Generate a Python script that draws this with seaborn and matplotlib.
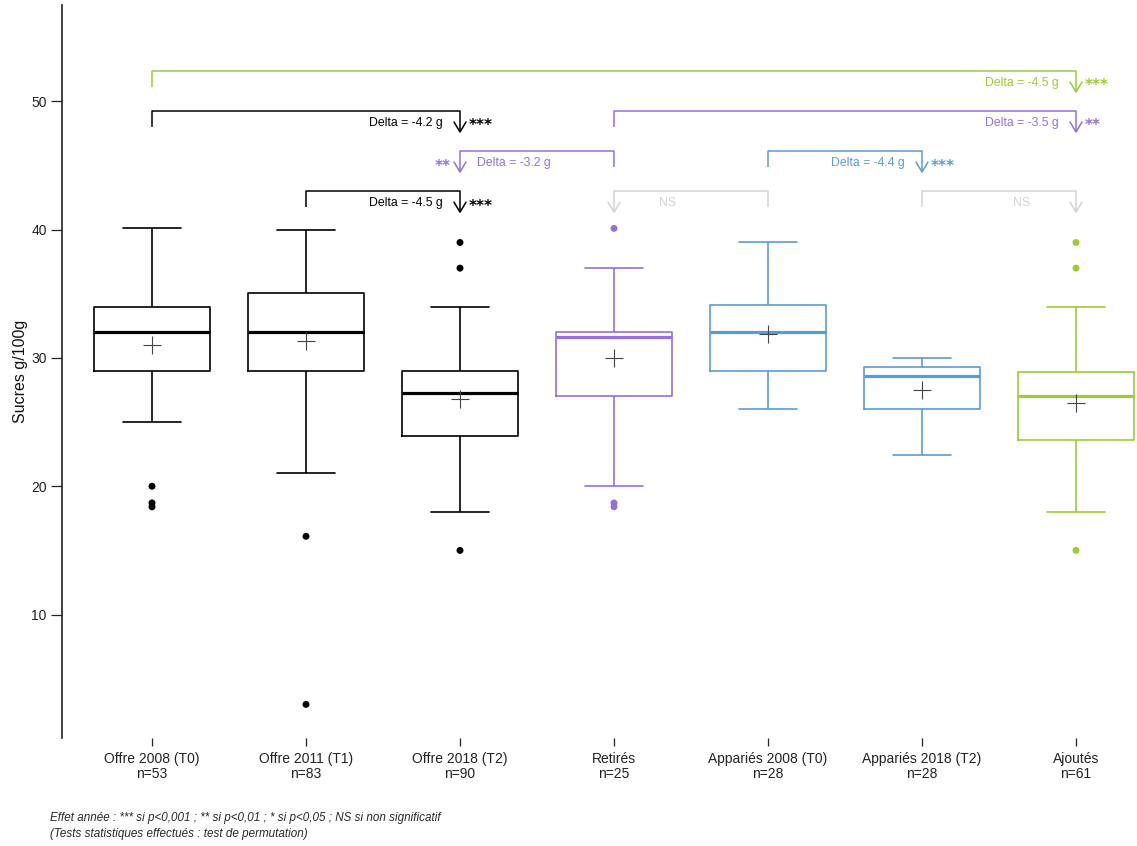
import numpy as np
import pandas as pd
import matplotlib
matplotlib.use("Agg")
import matplotlib.pyplot as plt
import seaborn as sns

# ---------------- data ----------------
categories = ["Offre 2008 (T0)", "Offre 2011 (T1)", "Offre 2018 (T2)", "Retirés",
              "Appariés 2008 (T0)", "Appariés 2018 (T2)", "Ajoutés"]
counts = [53, 83, 90, 25, 28, 28, 61]
whisker_low = [25.0, 21.0, 18.0, 20.0, 26.0, 22.4, 18.0]
q1 = [29.0, 29.0, 23.9, 27.0, 29.0, 26.0, 23.6]
median = [32.0, 32.0, 27.3, 31.6, 32.0, 28.6, 27.0]
q3 = [34.0, 35.1, 29.0, 32.0, 34.1, 29.3, 28.9]
whisker_high = [40.1, 40.0, 34.0, 37.0, 39.0, 30.0, 34.0]
means = [31.0, 31.3, 26.8, 30.0, 31.9, 27.5, 26.5]
outlier_groups = ["Offre 2008 (T0)"] * 3 + ["Offre 2011 (T1)"] * 2 + ["Offre 2018 (T2)"] * 3 \
    + ["Retirés"] * 3 + ["Ajoutés"] * 3
outlier_values = [20.0, 18.7, 18.4, 16.1, 3.0, 39.0, 37.0, 15.0, 40.1, 18.7, 18.4, 39.0, 37.0, 15.0]

# comparisons (from group index -> to group index, delta, significance)
comp_from = [0, 1, 3, 4, 4, 5, 3, 0]
comp_to = [2, 2, 2, 5, 3, 6, 6, 6]
comp_delta = [-4.2, -4.5, -3.2, -4.4, None, None, -3.5, -4.5]
comp_sig = ["***", "***", "**", "***", "NS", "NS", "**", "***"]

footnote_1 = "Effet année : *** si p<0,001 ; ** si p<0,01 ; * si p<0,05 ; NS si non significatif"
footnote_2 = "(Tests statistiques effectués : test de permutation)"

# ---------------- styles ----------------
BLACK = "#000000"
PURPLE = "#9370DB"
BLUE = "#5B9BD5"
GREEN = "#9ACD32"
GRAY = "#D3D3D3"
box_colors = dict(zip(categories, [BLACK, BLACK, BLACK, PURPLE, BLUE, BLUE, GREEN]))
comp_levels = [49.25, 43.0, 46.13, 46.13, 43.0, 43.0, 49.25, 52.37]
comp_colors = [BLACK, BLACK, PURPLE, BLUE, GRAY, GRAY, PURPLE, GREEN]

sns.set_theme(style="white")
plt.rcParams["font.family"] = ["Liberation Sans", "DejaVu Sans"]

fig = plt.figure(figsize=(11.37, 8.46), dpi=100)
ax = fig.add_axes([62 / 1137, (846 - 738) / 846, (1137 - 62) / 1137, (738 - 5) / 846])

summary = pd.DataFrame({
    "Groupe": np.repeat(categories, 5),
    "Sucres": np.column_stack([whisker_low, q1, median, q3, whisker_high]).ravel(),
})
sns.boxplot(data=summary, x="Groupe", y="Sucres", hue="Groupe", order=categories,
            hue_order=categories, palette=box_colors, fill=False, whis=(0, 100),
            showfliers=False, width=0.75, linewidth=1.2, dodge=False,
            medianprops=dict(linewidth=2.3), legend=False, ax=ax)

out_df = pd.DataFrame({"Groupe": outlier_groups, "Sucres": outlier_values})
sns.stripplot(data=out_df, x="Groupe", y="Sucres", hue="Groupe", order=categories,
              palette=box_colors, jitter=False, size=5, linewidth=0, legend=False, ax=ax)

sns.scatterplot(x=np.arange(len(categories)), y=means, marker="+", s=150,
                color="#444444", linewidth=0.8, legend=False, ax=ax, zorder=5)

# ---------------- brackets ----------------
px_x = 1 / 154.0     # data units per pixel along x
px_y = 1 / 12.83     # data units per pixel along y
for i0, i1, lev, col, d, sig in zip(comp_from, comp_to, comp_levels, comp_colors,
                                     comp_delta, comp_sig):
    tick = 16 * px_y
    drop = 21 * px_y
    tip = lev - drop
    ax.plot([i0, i0, i1, i1], [lev - tick, lev, lev, tip], color=col, lw=1.1,
            solid_capstyle="butt", clip_on=False)
    hw, hh = 6 * px_x, 10 * px_y
    ax.plot([i1 - hw, i1, i1 + hw], [tip + hh, tip, tip + hh], color=col, lw=1.1,
            clip_on=False)
    direction = 1 if i1 > i0 else -1
    ty = lev - 12 * px_y
    label = "NS" if d is None else f"Delta = {d} g"
    ax.text(i1 - direction * 54 * px_x, ty, label, ha="center", va="center",
            color=col, fontsize=8.8)
    if sig != "NS":
        ax.text(i1 + direction * 9 * px_x, ty - 3 * px_y, sig,
                ha="left" if direction > 0 else "right", va="center",
                color=col, fontsize=11, fontweight="bold", family="DejaVu Sans")

# ---------------- axes ----------------
ax.set_xlim(-90 / 154, (1137 - 152) / 154)
ax.set_ylim(0.38, 57.51)
ax.set_yticks([10, 20, 30, 40, 50])
ax.set_xticks(range(len(categories)))
ax.set_xticklabels([f"{c}\nn={n}" for c, n in zip(categories, counts)], fontsize=10,
                   linespacing=1.12)
ax.tick_params(axis="y", direction="out", length=8, width=0.9, labelsize=10, pad=3,
               left=True, colors="#222222")
ax.tick_params(axis="x", direction="out", length=6, width=0.9, labelsize=10, pad=4,
               bottom=True, colors="#222222")
for s in ["top", "right", "bottom"]:
    ax.spines[s].set_visible(False)
ax.spines["left"].set_color("#222222")
ax.spines["left"].set_linewidth(1.2)
ax.set_xlabel("")
ax.set_ylabel("Sucres g/100g", fontsize=11.5, color="#111111")
ax.yaxis.set_label_coords((28 - 62) / 1075, 0.5)
ax.grid(False)

fig.text(50 / 1137, 1 - 818 / 846, footnote_1, fontsize=8.4, style="italic", va="center")
fig.text(50 / 1137, 1 - 834 / 846, footnote_2, fontsize=8.4, style="italic", va="center")

fig.savefig("out.png", dpi=100)
